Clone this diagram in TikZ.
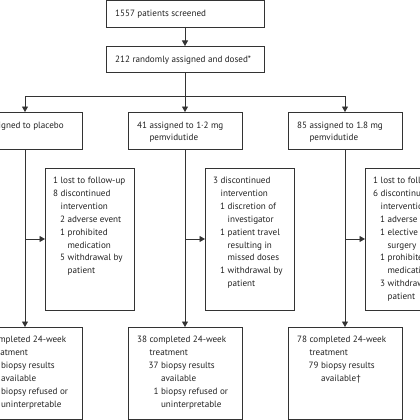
\documentclass[tikz,border=0pt]{standalone}
\usepackage{fontspec}
\setmainfont{PT Sans}
\usetikzlibrary{arrows.meta}
\definecolor{linec}{HTML}{333333}
\definecolor{txtc}{HTML}{222222}
\newlength\dg
\newlength\dgs
\newcommand\nl{\hfil\break}
\newcommand\ent[4]{\par\leftskip=#1\relax\setbox0=\hbox{\hbox to #2{\hfil#3}\ }\hangindent=\wd0 \hangafter=1 \noindent\box0 #4\par}
\newcommand\blk[1]{\vtop{\hsize=250pt\parindent=0pt\parskip=0pt\baselineskip=12.9pt\rightskip=0pt plus 1fil\parfillskip=0pt plus 1fil\hyphenpenalty=10000 #1}}
\begin{document}
\fontsize{9.1}{12.9}\selectfont
\settowidth\dg{0}\settowidth\dgs{0\ }
\begin{tikzpicture}[x=1pt,y=-1pt,
  box/.style={draw=linec,line width=0.9pt,inner sep=0pt,outer sep=0pt,anchor=north west},
  txt/.style={anchor=base west,inner sep=0pt,text=txtc},
  ln/.style={draw=linec,line width=0.9pt},
  arr/.style={draw=linec,line width=0.9pt,-{Triangle[length=5.5pt,width=6pt]}}]
\useasboundingbox (0,0) rectangle (420,420);
\clip (0,0) rectangle (420,420);
% boxes
\node[box,minimum width=158pt,minimum height=26.5pt] (scr) at (106,0.5) {};
\node[box,minimum width=158pt,minimum height=26pt] (dos) at (106,46) {};
\node[box,minimum width=114pt,minimum height=37pt] (pl) at (-32,112) {};
\node[box,minimum width=114pt,minimum height=37pt] (m1) at (128,112) {};
\node[box,minimum width=114pt,minimum height=37pt] (r1) at (288,112) {};
\node[box,minimum width=89pt,minimum height=142pt] (pls) at (45,168) {};
\node[box,minimum width=89pt,minimum height=142pt] (ms) at (205,168) {};
\node[box,minimum width=89pt,minimum height=142pt] (rs) at (365,168) {};
\node[box,minimum width=114pt,minimum height=92pt] (plb) at (-32,327) {};
\node[box,minimum width=114pt,minimum height=92pt] (mb) at (128,327) {};
\node[box,minimum width=114pt,minimum height=92pt] (rb) at (288,327) {};
% texts
\node[txt] (scrt) at (115,16.5) {\blk{1557 patients screened}};
\node[txt] (dost) at (115,63) {\blk{212 randomly assigned and dosed*}};
\node[txt] (plt) at (-26,128) {\blk{\ent{0pt}{2\dg}{86}{assigned to placebo}}};
\node[txt] (m1t) at (137,128) {\blk{\ent{0pt}{2\dg}{41}{assigned to 1·2 mg\nl pemvidutide}}};
\node[txt] (r1t) at (297,128) {\blk{\ent{0pt}{2\dg}{85}{assigned to 1.8 mg\nl pemvidutide}}};
\node[txt] (plst) at (53,183.5) {\blk{%
  \ent{0pt}{\dg}{1}{lost to follow-up}
  \ent{0pt}{\dg}{8}{discontinued\nl intervention}
  \ent{7pt}{\dg}{2}{adverse event}
  \ent{7pt}{\dg}{1}{prohibited\nl medication}
  \ent{7pt}{\dg}{5}{withdrawal by\nl patient}}};
\node[txt] (mst) at (213,183.5) {\blk{%
  \ent{0pt}{\dg}{3}{discontinued\nl intervention}
  \ent{7pt}{\dg}{1}{discretion of\nl investigator}
  \ent{7pt}{\dg}{1}{patient travel\nl resulting in\nl missed doses}
  \ent{7pt}{\dg}{1}{withdrawal by\nl patient}}};
\node[txt] (rst) at (373,183.5) {\blk{%
  \ent{0pt}{\dg}{1}{lost to follow-up}
  \ent{0pt}{\dg}{6}{discontinued\nl intervention}
  \ent{7pt}{\dg}{1}{adverse event}
  \ent{7pt}{\dg}{1}{elective\nl surgery}
  \ent{7pt}{\dg}{1}{prohibited\nl medication}
  \ent{7pt}{\dg}{3}{withdrawal by\nl patient}}};
\node[txt] (plbt) at (-23,342.5) {\blk{%
  \ent{0pt}{2\dg}{77}{completed 24-week\nl treatment}
  \ent{11.5pt}{2\dg}{72}{biopsy results\nl available}
  \ent{11.5pt}{2\dg}{5}{biopsy refused or\nl uninterpretable}}};
\node[txt] (mbt) at (137,342.5) {\blk{%
  \ent{0pt}{2\dg}{38}{completed 24-week\nl treatment}
  \ent{11.5pt}{2\dg}{37}{biopsy results\nl available}
  \ent{11.5pt}{2\dg}{1}{biopsy refused or\nl uninterpretable}}};
\node[txt] (rbt) at (297,342.5) {\blk{%
  \ent{0pt}{2\dg}{78}{completed 24-week\nl treatment}
  \ent{11.5pt}{2\dg}{79}{biopsy results\nl available†}}};
% connectors
\coordinate (split) at (185,96);
\draw[arr] (scr.south) -- (dos.north);
\draw[ln] (dos.south) -- (split);
\draw[arr] (split) -| (pl.north);
\draw[arr] (split) -- (m1.north);
\draw[arr] (split) -| (r1.north);
\draw[arr] (pl.south) -- (plb.north);
\draw[arr] (m1.south) -- (mb.north);
\draw[arr] (r1.south) -- (rb.north);
\coordinate (plj) at (pl.south |- pls.west);
\coordinate (mj) at (m1.south |- ms.west);
\coordinate (rj) at (r1.south |- rs.west);
\draw[arr] (plj) -- (pls.west);
\draw[arr] (mj) -- (ms.west);
\draw[arr] (rj) -- (rs.west);
\end{tikzpicture}
\end{document}
